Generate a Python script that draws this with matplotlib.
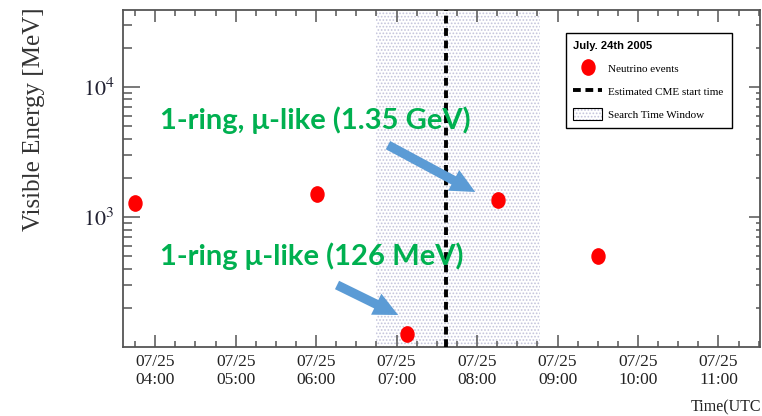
import matplotlib
matplotlib.use('Agg')
import matplotlib.pyplot as plt
import matplotlib.dates as mdates
from matplotlib.lines import Line2D
from matplotlib.patches import Patch
from matplotlib.legend_handler import HandlerTuple
from matplotlib.markers import MarkerStyle
from matplotlib.transforms import Affine2D
from datetime import datetime

# neutrino events (time UTC, visible energy MeV)
event_times = ['2005-07-25 03:45', '2005-07-25 06:01', '2005-07-25 07:08',
               '2005-07-25 08:16', '2005-07-25 09:30']
event_energy = [1280, 1500, 126, 1350, 500]

cme_time = '2005-07-25 07:37'
window = ['2005-07-25 06:45', '2005-07-25 08:47']
xrange_ = ['2005-07-25 03:36', '2005-07-25 11:31']
yrange_ = [100, 39000]
ytick_vals = [1e3, 1e4]
ytick_labels = [r'$10^{3}$', r'$10^{4}$']

notes = ['1-ring, \u03bc-like (1.35 GeV)', '1-ring \u03bc-like (126 MeV)']

fmt = '%Y-%m-%d %H:%M'
tt = [datetime.strptime(t, fmt) for t in event_times]
tc = datetime.strptime(cme_time, fmt)
tw = [datetime.strptime(t, fmt) for t in window]
tx = [datetime.strptime(t, fmt) for t in xrange_]

plt.rcParams['mathtext.fontset'] = 'stix'
plt.rcParams['hatch.linewidth'] = 0.8
serif = 'Liberation Serif'
axcol = '#555555'
hatchcol = '#c4c4dc'

fig = plt.figure(figsize=(7.62, 4.16), dpi=100)
ax = fig.add_axes([123/762, 1-347/416, 637/762, 337/416])

ax.axvspan(tw[0], tw[1], facecolor='white', edgecolor=hatchcol, lw=0, hatch='.....', zorder=1)
ax.axvline(tc, color='black', lw=2.8, ls=(0, (2, 1.2)), zorder=3)
mk = MarkerStyle('o', transform=Affine2D().scale(0.85, 1.0))
ax.plot(tt, event_energy, ls='none', marker=mk, ms=11, color='red', mec='red', zorder=4)

ax.set_yscale('log')
ax.set_ylim(yrange_)
ax.set_xlim(tx)
ax.set_yticks(ytick_vals)
ax.set_yticklabels(ytick_labels)

ax.xaxis.set_major_locator(mdates.HourLocator())
ax.xaxis.set_minor_locator(mdates.MinuteLocator(byminute=[15, 30, 45]))
ax.xaxis.set_major_formatter(mdates.DateFormatter('%m/%d\n%H:%M'))

for s in ax.spines.values():
    s.set_color(axcol)
    s.set_linewidth(1.3)

ax.tick_params(axis='x', which='both', direction='in', top=True, color=axcol, width=1.1)
ax.tick_params(axis='x', which='major', length=8.5, pad=5)
ax.tick_params(axis='x', which='minor', length=4.3)
ax.tick_params(axis='y', which='both', direction='in', right=False, color=axcol, width=1.1)
ax.tick_params(axis='y', which='major', length=12.5, pad=6)
ax.tick_params(axis='y', which='minor', length=6.5)
for lab in ax.get_xticklabels():
    lab.set_fontfamily(serif)
    lab.set_fontsize(12.5)
    lab.set_linespacing(1.15)
    lab.set_color('#222222')
for lab in ax.get_yticklabels():
    lab.set_fontsize(16)
    lab.set_color('#222233')

ax2 = ax.twinx()
ax2.set_yscale('log')
ax2.set_ylim(yrange_)
ax2.set_yticks(ytick_vals)
ax2.tick_params(axis='y', which='both', direction='in', color=axcol, width=1.1, labelright=False)
ax2.tick_params(axis='y', which='major', length=8)
ax2.tick_params(axis='y', which='minor', length=3)
for s in ax2.spines.values():
    s.set_visible(False)

ax.set_ylabel('Visible Energy [MeV]', loc='top', fontfamily=serif, fontsize=18, color='#333333')
ax.yaxis.set_label_coords(-0.122, 1.009)
fig.text(761/762, 1-411/416, 'Time(UTC', fontfamily=serif, fontsize=11.5, ha='right', va='baseline', color='#222222')

# annotations
green = '#00B050'
afont = ['Lato', 'Open Sans', 'DejaVu Sans']
ax.text(0.058, 0.647, notes[0], transform=ax.transAxes, color=green, fontsize=21,
        fontweight='bold', fontfamily=afont, va='baseline', zorder=6)
ax.text(0.058, 0.243, notes[1], transform=ax.transAxes, color=green, fontsize=21,
        fontweight='bold', fontfamily=afont, va='baseline', zorder=6)
astyle = 'simple,head_length=1.1,head_width=1.05,tail_width=0.42'
blue = '#5B9BD5'
ax.annotate('', xy=(0.553, 0.460), xytext=(0.416, 0.599), xycoords='axes fraction',
            arrowprops=dict(arrowstyle=astyle, mutation_scale=16, color=blue, lw=0, shrinkA=0, shrinkB=0), zorder=5)
ax.annotate('', xy=(0.432, 0.095), xytext=(0.336, 0.184), xycoords='axes fraction',
            arrowprops=dict(arrowstyle=astyle, mutation_scale=16, color=blue, lw=0, shrinkA=0, shrinkB=0), zorder=5)

# legend
h_ev = Line2D([], [], ls='none', marker=mk, ms=11, color='red')
h_cme = Line2D([], [], color='black', lw=2.8, ls=(0, (2, 1.2)))
h_win = (Patch(facecolor='white', edgecolor=hatchcol, lw=0, hatch='.....'),
         Patch(facecolor='none', edgecolor='black', lw=0.8))
leg = ax.legend([h_ev, h_cme, h_win], ['Neutrino events', 'Estimated CME start time', 'Search Time Window'],
                handler_map={tuple: HandlerTuple(ndivide=1)},
                loc='upper left', bbox_to_anchor=(0.695, 0.932), borderaxespad=0,
                title='July. 24th 2005', alignment='left', fancybox=False, framealpha=1,
                edgecolor='black', prop={'family': serif, 'size': 8}, handlelength=2.6,
                handleheight=1.3, labelspacing=1.0, borderpad=0.7, handletextpad=0.55)
leg.get_frame().set_linewidth(1.0)
leg.get_title().set_fontfamily('Liberation Sans')
leg.get_title().set_fontweight('bold')
leg.get_title().set_fontsize(8)
leg.set_zorder(7)

fig.savefig('out.png', dpi=100)
